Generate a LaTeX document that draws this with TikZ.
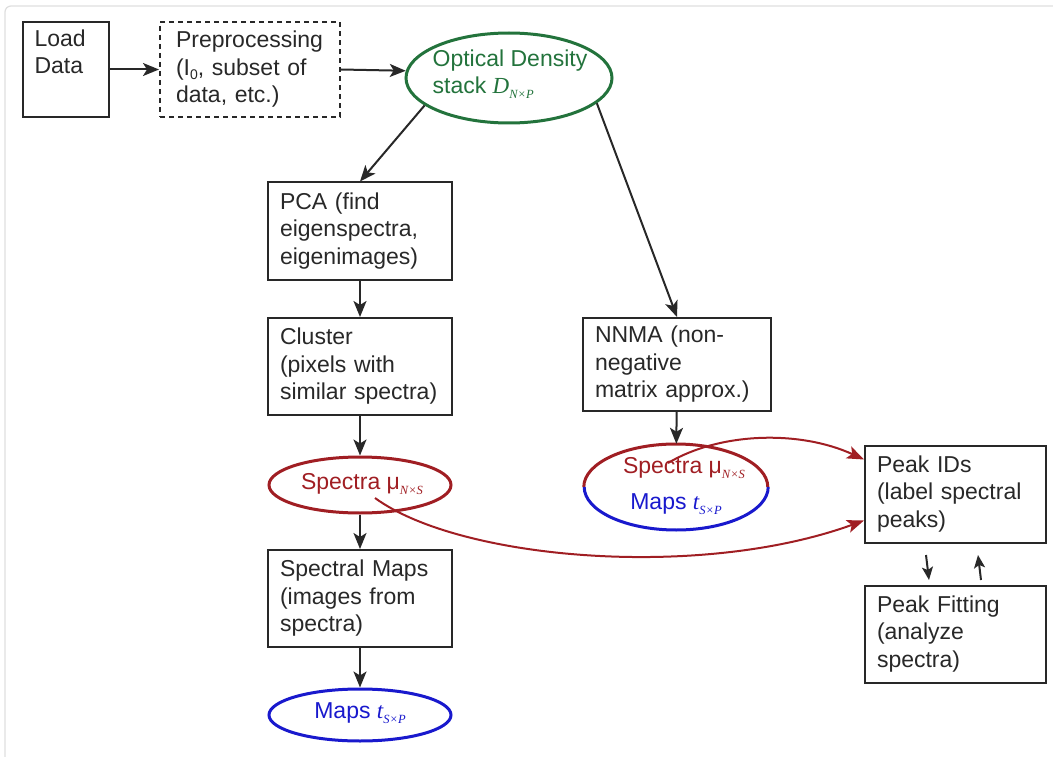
\documentclass[tikz,border=0pt]{standalone}
\usepackage{fontspec}
\setmainfont{Liberation Sans}
\newfontfamily\tms{Liberation Serif}
\usetikzlibrary{arrows.meta,shapes.geometric}
\definecolor{txt}{RGB}{40,40,40}
\definecolor{odgreen}{RGB}{35,115,60}
\definecolor{spred}{RGB}{160,30,35}
\definecolor{mpblue}{RGB}{25,25,205}
\definecolor{framecol}{RGB}{222,222,222}
\newcommand{\mysub}[1]{\raisebox{-5pt}{\fontsize{12.5}{12.5}\selectfont\tms\itshape #1}}
\newcommand{\mysubz}[1]{\raisebox{-4pt}{\fontsize{14}{14}\selectfont #1}}
\begin{document}
\begin{tikzpicture}[x=1pt,y=-1pt,
 every node/.style={font=\fontsize{23}{27.5}\selectfont, text=txt},
 box/.style={draw=txt, line width=2pt, rectangle, minimum width=180pt, minimum height=97pt, text width=160pt, align=left, inner xsep=12pt, inner ysep=0pt},
 ell/.style={ellipse, line width=3pt, inner sep=0pt},
 lbl/.style={align=left, inner sep=0pt},
 arr/.style={-{Stealth[length=16pt,width=13pt,inset=4pt]}, line width=2pt, draw=txt},
 sarr/.style={-{Stealth[length=13pt,width=11pt,inset=3pt]}, line width=2pt, draw=txt},
 carr/.style={-{Stealth[length=17pt,width=13pt,inset=4pt]}, line width=2pt, draw=spred},
]
\useasboundingbox (0,0) rectangle (1053,757);
\draw[framecol, line width=1.2pt, rounded corners=6pt] (5,775) -- (5,6) -- (1070,6);

% top row
\node[box, minimum width=84pt, text width=62pt, inner xsep=12pt, minimum height=95pt] (load) at (65.5,69.5) {Load\\Data\\\strut};
\node[box, dashed, dash pattern=on 5pt off 4pt, minimum width=174pt, text width=148pt, inner xsep=16pt, minimum height=95pt] (pre) at (250,69.5) {Preprocessing\\(I\mysubz{0}, subset of\\data, etc.)};
\node[ell, draw=odgreen, minimum width=206pt, minimum height=90pt] (od) at (509,78) {};
\node[lbl, text=odgreen] (odt) at (510,74) {Optical Density\\stack {\tms\itshape D}\mysub{N×P}};

% left column
\node[box] (pca) at (360,231) {PCA (find\\eigenspectra,\\eigenimages)};
\node[box] (clu) at (360,366.5) {Cluster\\(pixels with\\similar spectra)};
\node[ell, draw=spred, minimum width=182pt, minimum height=56pt] (sp) at (360,485) {};
\node[lbl, text=spred] (spt) at (362,484) {Spectra μ\mysub{N×S}};
\node[box] (smap) at (360,598.5) {Spectral Maps\\(images from\\spectra)};
\node[ell, draw=mpblue, minimum width=182pt, minimum height=52pt] (mp) at (360,715) {};
\node[lbl, text=mpblue] (mpt) at (360,713) {Maps {\tms\itshape t}\mysub{S×P}};

% middle column
\node[box, minimum width=186pt, text width=164pt, minimum height=93pt] (nnma) at (677,364.5) {NNMA (non-\\negative\\matrix approx.)};
\node[ellipse, inner sep=0pt, minimum width=184pt, minimum height=86pt] (sm) at (676,487) {};
\draw[spred, line width=3pt] (sm.west) arc[start angle=180, end angle=0, x radius=92pt, y radius=43pt];
\draw[mpblue, line width=3pt] (sm.east) arc[start angle=0, end angle=-180, x radius=92pt, y radius=43pt];
\node[lbl, text=spred] (smt1) at (684,468) {Spectra μ\mysub{N×S}};
\node[lbl, text=mpblue] (smt2) at (676,504) {Maps {\tms\itshape t}\mysub{S×P}};

% right column
\node[box, minimum width=179pt, text width=157pt] (pid) at (955.5,494) {Peak IDs\\(label spectral\\peaks)};
\node[box, minimum width=179pt, text width=157pt] (pfit) at (955.5,634) {Peak Fitting\\(analyze\\spectra)};

% connectors
\draw[arr] (load.east) -- (pre.west);
\draw[arr] (pre.east) -- (od.176);
\draw[arr] (od.198) -- (pca.north);
\draw[arr] (od.344) -- (nnma.north);
\draw[arr] (pca) -- (clu);
\draw[arr] (clu) -- (sp);
\draw[arr] (sp) -- (smap);
\draw[arr] (smap) -- (mp);
\draw[arr] (nnma) -- (sm);

\coordinate (c1s) at (668,463);
\coordinate (c2s) at (375,498);
\draw[carr] (c1s) .. controls (720,432) and (800,430) .. ([yshift=-15pt]pid.north west);
\draw[carr] (c2s) .. controls (460,560) and (700,580) .. ([yshift=23pt]pid.south west);

\coordinate (d1) at (926,555);
\coordinate (d2) at (929,580);
\coordinate (u1) at (981,580);
\coordinate (u2) at (978,555);
\draw[sarr] (d1) -- (d2);
\draw[sarr] (u1) -- (u2);
\end{tikzpicture}
\end{document}
